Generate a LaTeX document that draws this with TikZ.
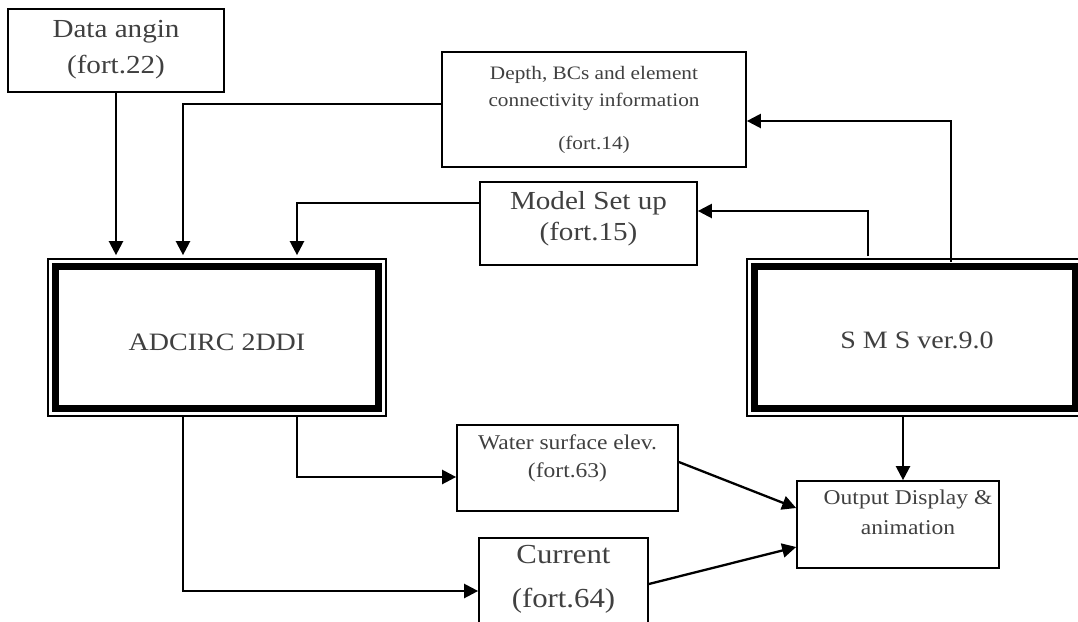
\documentclass[tikz,border=0pt]{standalone}
\usepackage{fontspec}
\setmainfont[FakeStretch=1.12]{Liberation Serif}
\usetikzlibrary{arrows.meta}
\definecolor{txt}{HTML}{404040}
\begin{document}
\begin{tikzpicture}[x=1pt,y=-1pt,
  box/.style={draw=black, line width=1.7pt, inner sep=0pt},
  lbl/.style={text=txt, align=center, inner sep=0pt},
  big/.style={font=\fontsize{26}{31}\selectfont},
  small/.style={font=\fontsize{19}{27}\selectfont},
  arr/.style={draw=black, line width=2.3pt, -{Triangle[length=14pt,width=14pt]}},
  thick frame/.style={line width=7.5pt}
]
\useasboundingbox (0,0) rectangle (1078,621);
\fill[white] (0,0) rectangle (1078,621);

% boxes
\node[box, minimum width=216pt, minimum height=83pt] (data) at (116,50.5) {};
\node[lbl, font=\fontsize{26}{36}\selectfont] (datat) at (116,50) {Data angin\\(fort.22)};

\node[box, minimum width=304pt, minimum height=115pt] (depth) at (594,109.5) {};
\node[lbl, small] (deptht) at (594,110) {Depth, BCs and element\\connectivity information\\[16pt](fort.14)};

\node[box, minimum width=217pt, minimum height=83pt] (model) at (588.5,223.5) {};
\node[lbl, big] (modelt) at (588.5,219) {Model Set up\\(fort.15)};

\node[box, minimum width=338pt, minimum height=157pt] (adcirc) at (217,337.5) {};
\draw[thick frame] ([shift={(8.5,8.5)}]adcirc.north west) rectangle ([shift={(-8.5,-8.5)}]adcirc.south east);
\node[lbl, font=\fontsize{25}{30}\selectfont] (adcirct) at (217,342) {ADCIRC 2DDI};

\node[box, minimum width=336pt, minimum height=157pt] (sms) at (915,337.5) {};
\draw[thick frame] ([shift={(8.5,8.5)}]sms.north west) rectangle ([shift={(-8.5,-8.5)}]sms.south east);
\node[lbl, font=\fontsize{25}{30}\selectfont] (smst) at (917,340) {S M S ver.9.0};

\node[box, minimum width=221pt, minimum height=86pt] (water) at (567.5,468) {};
\node[lbl, font=\fontsize{21}{28}\selectfont] (watert) at (567.5,458.5) {Water surface elev.\\(fort.63)};

\node[box, minimum width=169pt, minimum height=106pt] (current) at (563.5,591) {};
\node[lbl, font=\fontsize{27.5}{44}\selectfont] (currentt) at (563.5,579) {Current\\(fort.64)};

\node[box, minimum width=202pt, minimum height=87pt] (output) at (898,524.5) {};
\node[lbl, font=\fontsize{21}{30}\selectfont] (outputt) at (908,512) {Output Display \&\\animation};

% connectors
\draw[arr, shorten >=3pt] (data.south) -- (data.south |- adcirc.north);
\draw[arr, shorten >=3pt] ([yshift=5.5pt]depth.west) -| ([xshift=-34pt]adcirc.north);
\draw[arr, shorten >=3pt] ([yshift=20.5pt]model.west) -| ([xshift=80pt]adcirc.north);
\draw[arr] ([xshift=36pt,yshift=-4pt]sms.north) |- ([yshift=-11.5pt]depth.east);
\draw[arr] ([xshift=-47pt,yshift=2pt]sms.north) |- ([yshift=12.5pt]model.east);
\draw[arr] ([xshift=-12pt]sms.south) -- ([xshift=-12pt]sms.south |- output.north);
\draw[arr] ([xshift=80pt]adcirc.south) |- ([yshift=-9pt]water.west);
\draw[arr] ([xshift=-34pt]adcirc.south) |- (current.west);
\draw[arr] ([yshift=6pt]water.east) -- ([yshift=16.5pt]output.west);
\draw[arr] ([yshift=7pt]current.east) -- ([yshift=-22.5pt]output.west);
\end{tikzpicture}
\end{document}
